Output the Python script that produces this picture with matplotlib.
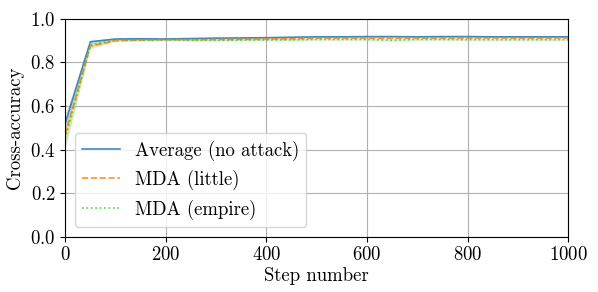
import numpy as np
import matplotlib
matplotlib.use("Agg")
import matplotlib.pyplot as plt

plt.rcParams['font.family'] = 'cmr10'
plt.rcParams['mathtext.fontset'] = 'cm'
plt.rcParams['axes.formatter.use_mathtext'] = True
plt.rcParams['font.size'] = 13.5

# Steps and accuracies
steps = [0, 50, 100, 150, 200, 250, 300, 350, 400, 450, 500, 550, 600, 650, 700, 750, 800, 850, 900, 950, 1000]
avg_mean = [0.52, 0.895, 0.908, 0.909, 0.908, 0.910, 0.912, 0.913, 0.914, 0.916, 0.918, 0.918, 0.919, 0.919, 0.918, 0.919, 0.919, 0.918, 0.918, 0.918, 0.918]
avg_std = [0.04, 0.008, 0.004, 0.003, 0.003, 0.003, 0.003, 0.003, 0.003, 0.003, 0.003, 0.003, 0.003, 0.003, 0.003, 0.003, 0.003, 0.003, 0.003, 0.003, 0.003]
little_mean = [0.47, 0.875, 0.900, 0.903, 0.905, 0.905, 0.906, 0.907, 0.908, 0.909, 0.912, 0.912, 0.912, 0.911, 0.912, 0.912, 0.912, 0.913, 0.912, 0.912, 0.913]
little_std = [0.05, 0.012, 0.005, 0.004, 0.004, 0.004, 0.004, 0.004, 0.004, 0.004, 0.004, 0.004, 0.004, 0.004, 0.004, 0.004, 0.004, 0.004, 0.004, 0.004, 0.004]
empire_mean = [0.45, 0.88, 0.905, 0.903, 0.904, 0.902, 0.902, 0.903, 0.904, 0.904, 0.906, 0.906, 0.906, 0.902, 0.906, 0.906, 0.905, 0.905, 0.905, 0.905, 0.905]
empire_std = [0.05, 0.010, 0.005, 0.004, 0.004, 0.004, 0.004, 0.004, 0.004, 0.004, 0.004, 0.004, 0.004, 0.004, 0.004, 0.004, 0.004, 0.004, 0.004, 0.004, 0.004]

fig, ax = plt.subplots(figsize=(5.98, 2.92), dpi=100)

series = [
    (avg_mean, avg_std, '-', 'tab:blue', 'Average (no attack)'),
    (little_mean, little_std, '--', 'tab:orange', 'MDA (little)'),
    (empire_mean, empire_std, ':', 'limegreen', 'MDA (empire)'),
]
for mean, std, ls, color, label in series:
    m = np.array(mean)
    s = np.array(std)
    ax.plot(steps, m, linestyle=ls, color=color, label=label, linewidth=1.2, alpha=0.85)
    ax.fill_between(steps, m - s, m + s, color=color, alpha=0.2, linewidth=0)

ax.set_xlim(0, 1000)
ax.set_ylim(0, 1)
ax.set_xlabel('Step number', labelpad=2)
ax.set_ylabel('Cross-accuracy')
ax.grid(True, color='#b0b0b0', linewidth=0.8)
ax.legend(loc='lower left')

fig.subplots_adjust(left=0.109, right=0.95, top=0.935, bottom=0.19)
fig.savefig('out.png', dpi=100)
